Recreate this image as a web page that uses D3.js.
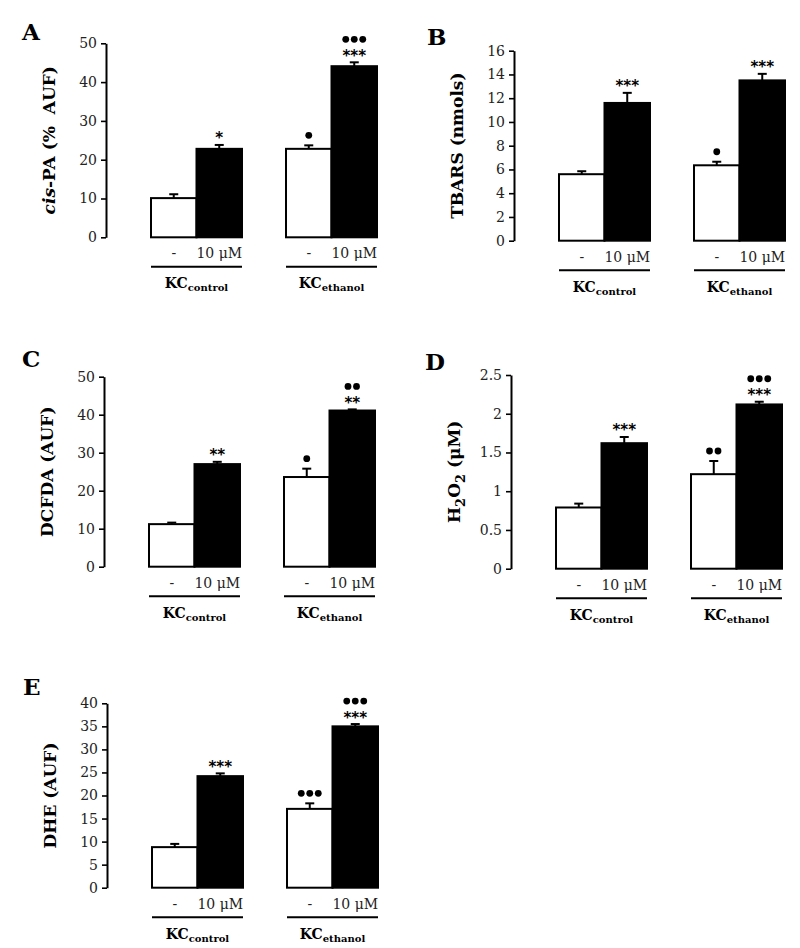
<!DOCTYPE html>
<html>
<head>
<meta charset="utf-8">
<script src="https://cdn.jsdelivr.net/npm/d3@7"></script>
<style>
  html, body { margin: 0; padding: 0; background: #fff; }
  svg text { white-space: pre; }
</style>
</head>
<body>
<svg id="chart" width="800" height="948"></svg>
<script>
// ---------- DATA ----------
const panelIds = ["A", "B", "C", "D", "E"];
const groups = ["control", "ethanol"];
const treatments = ["-", "10 μM"];

// order: control/-, control/10 μM, ethanol/-, ethanol/10 μM
const valuesA = [10.1, 22.8, 22.8, 44.1];
const errorsA = [1.0, 1.0, 0.9, 1.0];
const valuesB = [5.6, 11.6, 6.35, 13.5];
const errorsB = [0.25, 0.85, 0.3, 0.55];
const valuesC = [11.2, 27.0, 23.6, 41.1];
const errorsC = [0.4, 0.6, 2.2, 0.3];
const valuesD = [0.79, 1.62, 1.22, 2.12];
const errorsD = [0.05, 0.08, 0.17, 0.035];
const valuesE = [8.8, 24.2, 17.1, 35.0];
const errorsE = [0.7, 0.6, 1.2, 0.5];

const ticksA = [0, 10, 20, 30, 40, 50];
const ticksB = [0, 2, 4, 6, 8, 10, 12, 14, 16];
const ticksC = [0, 10, 20, 30, 40, 50];
const ticksD = [0, 0.5, 1, 1.5, 2, 2.5];
const ticksE = [0, 5, 10, 15, 20, 25, 30, 35, 40];

const starsA = ["", "*", "", "***"];
const starsB = ["", "***", "", "***"];
const starsC = ["", "**", "", "**"];
const starsD = ["", "***", "", "***"];
const starsE = ["", "***", "", "***"];

const dotsA = [0, 0, 1, 3];
const dotsB = [0, 0, 1, 0];
const dotsC = [0, 0, 1, 2];
const dotsD = [0, 0, 2, 3];
const dotsE = [0, 0, 3, 3];

const yLabels = {
  A: [{t: "cis", it: true}, {t: "-PA (%  AUF)"}],
  B: [{t: "TBARS (nmols)"}],
  C: [{t: "DCFDA (AUF)"}],
  D: [{t: "H"}, {t: "2", sub: true}, {t: "O"}, {t: "2", sub: true}, {t: " (μM)"}],
  E: [{t: "DHE (AUF)"}]
};

// ---------- LAYOUT ----------
const layout = {
  A: {ax: 106, top: 43.3, bottom: 237.3, lx: 22, ly: 40},
  B: {ax: 514, top: 50.7, bottom: 240.7, lx: 427, ly: 45},
  C: {ax: 104, top: 376.7, bottom: 566.7, lx: 22, ly: 367},
  D: {ax: 511, top: 375, bottom: 568.7, lx: 425, ly: 370},
  E: {ax: 107, top: 703.3, bottom: 887.7, lx: 23, ly: 695}
};

const panelData = {
  A: {v: valuesA, e: errorsA, ticks: ticksA, stars: starsA, dots: dotsA},
  B: {v: valuesB, e: errorsB, ticks: ticksB, stars: starsB, dots: dotsB},
  C: {v: valuesC, e: errorsC, ticks: ticksC, stars: starsC, dots: dotsC},
  D: {v: valuesD, e: errorsD, ticks: ticksD, stars: starsD, dots: dotsD},
  E: {v: valuesE, e: errorsE, ticks: ticksE, stars: starsE, dots: dotsE}
};

const svg = d3.select("#chart");
const serif = "'DejaVu Serif', serif";

panelIds.forEach(id => {
  const L = layout[id];
  const D = panelData[id];
  const g = svg.append("g");

  const y = d3.scaleLinear()
    .domain([0, D.ticks[D.ticks.length - 1]])
    .range([L.bottom, L.top]);

  const xg = d3.scaleBand().domain(groups)
    .range([L.ax + 45, L.ax + 271]).paddingInner(0.326).paddingOuter(0);
  const xi = d3.scaleBand().domain(treatments).range([0, xg.bandwidth()]);

  // y axis
  const axis = g.append("g")
    .attr("transform", `translate(${L.ax},0)`)
    .call(d3.axisLeft(y).tickValues(D.ticks).tickSize(5).tickSizeOuter(0).tickPadding(4)
      .tickFormat(d => String(d)));
  axis.select(".domain").attr("stroke", "#000").attr("stroke-width", 2);
  axis.selectAll(".tick line").attr("stroke", "#000").attr("stroke-width", 1.6);
  axis.selectAll(".tick text").attr("font-family", serif).attr("font-size", 14)
    .attr("fill", "#222");

  // y label
  const yl = g.append("text")
    .attr("transform", `translate(${L.ax - 51},${(L.top + L.bottom) / 2}) rotate(-90)`)
    .attr("text-anchor", "middle")
    .attr("font-family", serif).attr("font-weight", "bold").attr("font-size", 17)
    .attr("fill", "#000");
  yLabels[id].forEach(part => {
    const ts = yl.append("tspan").text(part.t);
    if (part.it) ts.attr("font-style", "italic");
    if (part.sub) {
      ts.attr("dy", 5).attr("font-size", 13);
    } else if (yl.selectAll("tspan").size() > 1) {
      ts.attr("dy", 0);
    }
  });
  // fix dy for parts after sub
  let prevSub = false;
  yl.selectAll("tspan").each(function(d, i) {
    const part = yLabels[id][i];
    if (part.sub) { d3.select(this).attr("dy", 5); prevSub = true; }
    else if (prevSub) { d3.select(this).attr("dy", -5); prevSub = false; }
  });

  // panel letter
  g.append("text").attr("x", L.lx).attr("y", L.ly)
    .attr("font-family", serif).attr("font-weight", "bold").attr("font-size", 23)
    .text(id);

  // bars
  const rows = [];
  groups.forEach((grp, gi) => {
    treatments.forEach((tr, ti) => {
      const k = gi * 2 + ti;
      rows.push({grp, tr, ti, v: D.v[k], e: D.e[k], stars: D.stars[k], dots: D.dots[k]});
    });
  });

  const bx = r => xg(r.grp) + xi(r.tr);
  const bw = xi.bandwidth();

  g.selectAll("rect.bar").data(rows).enter().append("rect")
    .attr("class", "bar")
    .attr("x", bx).attr("width", bw)
    .attr("y", r => y(r.v)).attr("height", r => y(0) - y(r.v))
    .attr("fill", r => r.ti === 0 ? "#fff" : "#000")
    .attr("stroke", "#000").attr("stroke-width", 2);

  // error bars
  g.selectAll("line.err").data(rows).enter().append("line")
    .attr("x1", r => bx(r) + bw / 2).attr("x2", r => bx(r) + bw / 2)
    .attr("y1", r => y(r.v)).attr("y2", r => y(r.v + r.e))
    .attr("stroke", "#000").attr("stroke-width", 2);
  g.selectAll("line.cap").data(rows).enter().append("line")
    .attr("x1", r => bx(r) + bw / 2 - 4.5).attr("x2", r => bx(r) + bw / 2 + 4.5)
    .attr("y1", r => y(r.v + r.e)).attr("y2", r => y(r.v + r.e))
    .attr("stroke", "#000").attr("stroke-width", 2);

  // stars
  g.selectAll("text.star").data(rows.filter(r => r.stars)).enter().append("text")
    .attr("x", r => bx(r) + bw / 2)
    .attr("y", r => y(r.v + r.e) - 1.5)
    .attr("text-anchor", "middle")
    .attr("font-family", "'DejaVu Sans', sans-serif").attr("font-weight", "bold")
    .attr("font-size", 15).attr("fill", "#000")
    .text(r => r.stars);

  // dots
  rows.filter(r => r.dots > 0).forEach(r => {
    const cy = y(r.v + r.e) - (r.stars ? 23 : 10);
    const cx0 = bx(r) + bw / 2;
    d3.range(r.dots).forEach(j => {
      g.append("circle")
        .attr("cx", cx0 + (j - (r.dots - 1) / 2) * 8.5)
        .attr("cy", cy).attr("r", 3.4).attr("fill", "#000");
    });
  });

  // x labels
  g.selectAll("text.xl").data(rows).enter().append("text")
    .attr("x", r => bx(r) + bw / 2).attr("y", L.bottom + 21)
    .attr("text-anchor", "middle")
    .attr("font-family", serif).attr("font-size", 14).attr("fill", "#222")
    .text(r => r.tr);

  // group lines and labels
  groups.forEach(grp => {
    g.append("line")
      .attr("x1", xg(grp)).attr("x2", xg(grp) + xg.bandwidth())
      .attr("y1", L.bottom + 29.5).attr("y2", L.bottom + 29.5)
      .attr("stroke", "#000").attr("stroke-width", 2);
    const t = g.append("text")
      .attr("x", xg(grp) + xg.bandwidth() / 2).attr("y", L.bottom + 51)
      .attr("text-anchor", "middle")
      .attr("font-family", serif).attr("font-weight", "bold").attr("font-size", 14);
    t.append("tspan").text("KC");
    t.append("tspan").attr("dy", 3).attr("font-size", 10).text(grp);
  });
});
</script>
</body>
</html>
